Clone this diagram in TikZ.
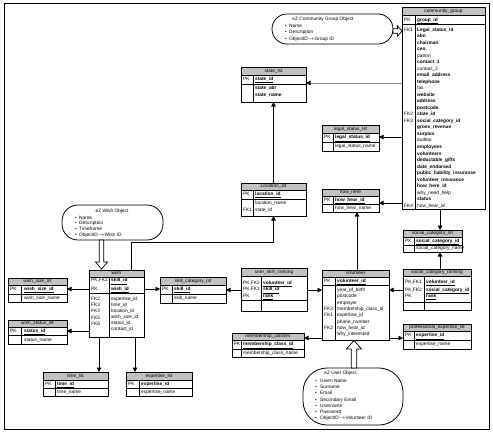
\documentclass[tikz,border=0pt]{standalone}
\usepackage{fontspec}
\setmainfont{Liberation Sans}
\usetikzlibrary{arrows.meta}
\newcommand\pkey[1]{\underline{\textbf{#1}}}
\tikzset{
 tblbox/.style={draw, line width=.8pt, inner sep=0pt, outer sep=0pt, anchor=north west},
 hdrfill/.style={fill=black!24},
 tblline/.style={line width=.7pt},
 txt/.style={font=\fontsize{4.8}{5.4}\selectfont, inner sep=0pt, text height=3.4pt, text depth=1.1pt},
 cell/.style={txt, anchor=west},
 ttl/.style={txt, anchor=center},
 fk/.style={line width=.8pt, -{Triangle[length=4.5pt,width=4.5pt]}},
 obj/.style={draw, line width=.8pt, inner sep=0pt},
 hollow/.style={draw, line width=.7pt, fill=white, line join=miter},
 frame/.style={line width=.8pt},
}
\newcommand\ertbl[9]{%
 \fill[hdrfill] (#2,#3) rectangle (#4,#6);
 \node[tblbox, minimum width={(#4-#2)*1pt}, minimum height={(#5-#3)*1pt}] (#1) at (#2,#3) {};
 \draw[tblline] (#2,#6) -- (#4,#6) (#2,#7) -- (#4,#7) (#8,#6) -- (#8,#5);
 \node[ttl] (#1-ttl) at ({(#2+#4)/2},{(#3+#6)/2}) {#9};
}
\newcommand\cells[3]{\foreach \yy/\txt [count=\i] in {#3} {\node[cell] (#1-\i) at (#2,\yy) {\txt};}}
\newcommand\colrows[5]{\foreach \txt [count=\i] in {#5} {\node[cell] (#1-\i) at (#2,{#3+(\i-1)*#4}) {\txt};}}
\begin{document}
\begin{tikzpicture}[x=1pt,y=-1pt]
\useasboundingbox (0,0) rectangle (493,434);
\draw[frame] (4,3) rectangle (489,429);

% helper coordinates
\coordinate (y83) at (0,83);
\coordinate (y137) at (0,137);
\coordinate (y203) at (0,203);
\coordinate (y242) at (0,242);
\coordinate (y289) at (0,289);
\coordinate (y290) at (0,290);
\coordinate (y331) at (0,331);
\coordinate (y338) at (0,338);
\coordinate (x99) at (99,0);
\coordinate (x131) at (131,0);
\coordinate (x135) at (135,0);
\coordinate (x357) at (357,0);
\coordinate (x440) at (440,0);

% community_group
\ertbl{cg}{402}{7}{485}{209}{15}{24.5}{415}{community\_group}
\cells{cgk}{404}{20/PK, 30/FK1, 114.8/FK2, 121.3/FK3, 206/FK4}
\node[cell] (cg-pk) at (417,20) {\pkey{group\_id}};
\colrows{cga}{417}{30}{6.52}{\textbf{Legal\_status\_id}, \textbf{abn}, \textbf{chairman}, \textbf{ceo}, patron, \textbf{contact\_1}, contact\_2, \textbf{email\_address}, \textbf{telephone}, fax, \textbf{website}, \textbf{address}, \textbf{postcode}, \textbf{state\_id}, \textbf{social\_category\_id}, \textbf{gross\_revenue}, \textbf{surplus}, auditor, \textbf{employees}, \textbf{volunteers}, \textbf{deductable\_gifts}, \textbf{date\_endorsed}, \textbf{public\_liability\_insurance}, \textbf{volunteer\_insurance}, \textbf{how\_here\_id}, why\_need\_help, \textbf{status}, how\_hear\_id}

% state_lst
\ertbl{st}{241}{67}{306}{102}{75}{84}{253}{state\_lst}
\cells{stk}{243}{79.5/PK}
\cells{sta}{255}{79.5/\pkey{state\_id}, 88.5/\textbf{state\_abr}, 95/\textbf{state\_name}}

% legal_status_lst
\ertbl{ls}{322}{125}{379}{151}{133}{142}{333}{legal\_status\_lst}
\cells{lsk}{324}{137.5/PK}
\cells{lsa}{335}{137.5/\pkey{legal\_status\_id}, 146.5/legal\_status\_name}

% how_here
\ertbl{hh}{322}{189}{379}{212}{196.5}{204}{333}{how\_here}
\cells{hhk}{324}{200.3/PK}
\cells{hha}{335}{200.3/\pkey{how\_hear\_id}, 208/how\_hear\_name}

% Location_lst
\ertbl{loc}{241}{183}{306}{216}{190}{199}{253}{Location\_lst}
\cells{lock}{243}{194.5/PK, 210.5/FK1}
\cells{loca}{255}{194.5/\pkey{location\_id}, 203.5/location\_name, 210.5/state\_id}

% wish
\ertbl{wi}{89}{270}{144}{337}{277}{293.3}{109.3}{wish}
\cells{wik}{91}{280.7/{PK,FK1}, 289/PK}
\colrows{wif}{91}{299.3}{6.2}{FK2, FK3, FK4, FK5, FK6}
\cells{wip}{111}{280.7/\pkey{skill\_id}, 289/\pkey{wish\_id}}
\colrows{wia}{111}{299.3}{6.1}{expertise\_id, time\_id, location\_id, wish\_size\_id, status\_id, contact\_id}

% wish_size_lst
\ertbl{ws}{8}{278}{67}{302}{285}{294}{21.7}{wish\_size\_lst}
\cells{wsk}{10}{289.5/PK}
\cells{wsa}{24}{289.5/\pkey{wish\_size\_id}, 298/wish\_size\_name}

% wish_status_lst
\ertbl{wst}{8}{320}{67}{344}{327}{335.5}{21.7}{wish\_status\_lst}
\cells{wstk}{10}{331.3/PK}
\cells{wsta}{24}{331.3/\pkey{status\_id}, 340/status\_name}

% time_lst
\ertbl{tl}{43}{372}{108}{396}{380}{388.5}{55}{time\_lst}
\cells{tlk}{45}{384.3/PK}
\cells{tla}{57}{384.3/\pkey{time\_id}, 392.3/time\_name}

% expertise_lst
\ertbl{el}{126}{372}{192}{396}{380}{388.5}{139}{expertise\_lst}
\cells{elk}{128}{384.3/PK}
\cells{ela}{141}{384.3/\pkey{expertise\_id}, 392.3/expertise\_name}

% skill_category_lst
\ertbl{sc}{160}{277}{226}{303}{285}{294}{172}{skill\_category\_lst}
\cells{sck}{162}{289.5/PK}
\cells{sca}{174}{289.5/\pkey{skill\_id}, 298.5/skill\_name}

% user_skill_ranking
\ertbl{usr}{241}{268}{307}{311}{276}{300.5}{261}{user\_skill\_ranking}
\cells{usrk}{243}{283.3/{PK,FK2}, 289.8/{PK,FK1}, 296.3/PK}
\cells{usra}{263}{283.3/\pkey{volunteer\_id}, 289.8/\pkey{skill\_id}, 296.3/\pkey{rank}}

% volunteer
\ertbl{vo}{322}{270}{389}{340}{277}{285}{335}{volunteer}
\cells{vok}{324}{281/PK, 309.4/FK3, 315.7/FK1, 328.3/FK2}
\node[cell] (vo-pk) at (337,281) {\pkey{volunteer\_id}};
\colrows{voa}{337}{290.5}{6.3}{year\_of\_birth, postcode, employer, membership\_class\_id, expertise\_id, phone\_number, how\_hear\_id, why\_interested}

% membership_classes
\ertbl{mc}{232}{333}{304}{357}{340}{349}{241}{membership\_classes}
\cells{mck}{233.5}{344.5/PK}
\cells{mca}{243}{344.5/\pkey{membership\_class\_id}, 353/membership\_class\_name}

% social_category_lst
\ertbl{scl}{403}{230}{462}{252}{237}{245}{414}{social\_category\_lst}
\cells{sclk}{405}{241/PK}
\cells{scla}{416}{241/\pkey{social\_category\_id}, 248.7/social\_category\_name}

% social_category_ranking
\ertbl{scr}{403}{269}{471}{310}{276}{302}{424}{social\_category\_ranking}
\cells{scrk}{405}{282.3/{PK,FK1}, 290/{PK,FK2}, 296.5/PK}
\cells{scra}{426}{282.3/\pkey{volunteer\_id}, 290/\pkey{social\_category\_id}, 296.5/\pkey{rank}}

% professional_expertise_lst
\ertbl{pel}{403}{324}{471}{349}{331}{340}{414}{professional\_expertise\_lst}
\cells{pelk}{405}{335.8/PK}
\cells{pela}{416}{335.8/\pkey{expertise\_id}, 344.5/expertise\_name}

% object ellipses
\node[obj, rounded corners=15pt, minimum width=121pt, minimum height=30pt] (cgo) at (332.5,29) {};
\node[ttl] (cgo-t) at (323,19.5) {eZ Community Group Object};
\cells{cgob}{285}{26.3/\textbullet, 32.7/\textbullet, 39/\textbullet}
\cells{cgoi}{289}{26.3/Name, 32.7/Description, 39/ObjectID$\rightarrow$Group ID}

\node[obj, rounded corners=16pt, minimum width=101pt, minimum height=35pt] (wo) at (112.5,222.5) {};
\node[ttl] (wo-t) at (112,211.5) {eZ Wish Object};
\cells{wob}{75}{218/\textbullet, 223.8/\textbullet, 229.6/\textbullet, 235.6/\textbullet}
\cells{woi}{79}{218/Name, 223.8/Description, 229.6/Timeframe, 235.6/ObjectID$\rightarrow$Wish ID}

\node[obj, rounded corners=24pt, minimum width=100pt, minimum height=57pt] (uo) at (353,396.5) {};
\node[ttl] (uo-t) at (340.5,373.5) {eZ User Object};
\cells{uob}{315}{381/\textbullet, 387.3/\textbullet, 393.6/\textbullet, 399.9/\textbullet, 406.2/\textbullet, 412.5/\textbullet, 418.8/\textbullet}
\cells{uoi}{320}{381/Given Name, 387.3/Surname, 393.6/Email, 399.9/Secondary Email, 406.2/Username, 412.5/Password, 418.8/ObjectID$\rightarrow$Volunteer ID}

% hollow block arrows
\draw[hollow] (393,28.8) -- (397.5,28.8) -- (397.5,25.8) -- (402,31) -- (397.5,36.2) -- (397.5,33.2) -- (393,33.2) -- cycle;
\draw[hollow] (99.3,240) -- (99.3,262) -- (95.5,262) -- (101.5,269) -- (107.5,262) -- (103.7,262) -- (103.7,240) -- cycle;
\draw[hollow] (351.3,368) -- (351.3,349) -- (346.5,349) -- (354,340.5) -- (361.5,349) -- (356.7,349) -- (356.7,368) -- cycle;

% connectors
\draw[fk, draw=black!45, -{Triangle[length=4.5pt,width=4.5pt,color=black]}] (cg.west |- y83) -- (st.east |- y83);
\draw[fk] (cg.west |- y137) -- (ls.east |- y137);
\draw[fk] (cg.west |- y203) -- (hh.east |- y203);
\draw[fk] (cg.south -| x440) -- (scl.north -| x440);
\draw[fk] (scr.north -| x440) -- (scl.south -| x440);
\draw[fk] (scr.west |- y290) -- (vo.east |- y290);
\draw[fk] (vo.east |- y338) -- (pel.west |- y338);
\draw[fk] (vo.north -| x357) -- (hh.south -| x357);
\draw[fk] (vo.west |- y338) -- (mc.east |- y338);
\draw[fk] (usr.east |- y290) -- (vo.west |- y290);
\draw[fk] (usr.west |- y290) -- (sc.east |- y290);
\draw[fk] (wi.east |- y289) -- (sc.west |- y289);
\draw[fk] (wi.west |- y289) -- (ws.east |- y289);
\draw[fk] (wi.west |- y331) -- (wst.east |- y331);
\draw[fk] (wi.south -| x99) -- (tl.north -| x99);
\draw[fk] (wi.south -| x135) -- (el.north -| x135);
\draw[fk] (wi.north -| x131) -- (x131 |- y242) -- (loc.south |- y242) -- (loc.south);
\draw[fk] (loc.north) -- (st.south);
\end{tikzpicture}
\end{document}
